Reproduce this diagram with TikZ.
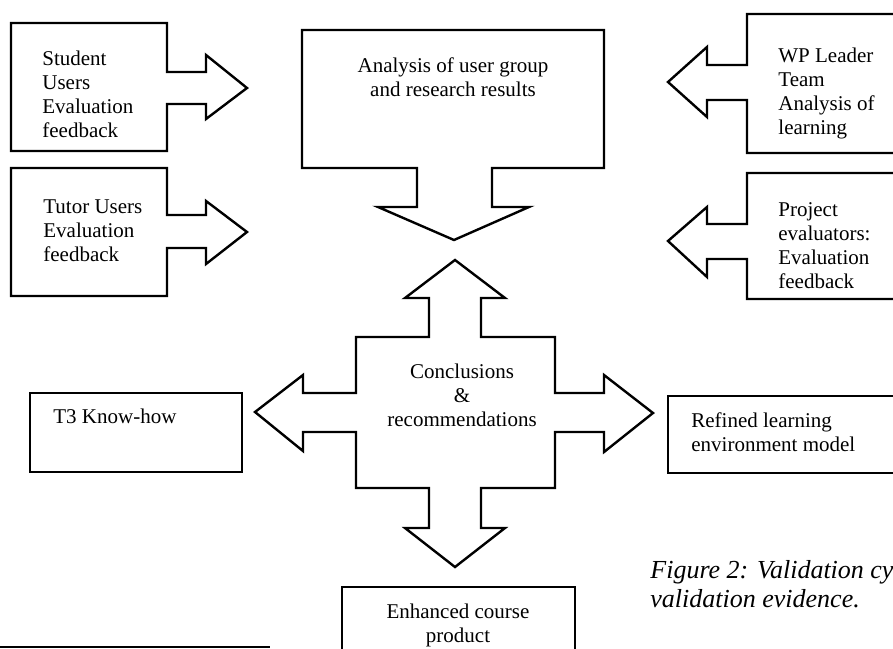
\documentclass[tikz,border=0pt]{standalone}
\usepackage{fontspec}
\setmainfont{Liberation Serif}
\newcommand\tlines[2][l]{\begin{tabular}[t]{@{}#1@{}}#2\end{tabular}}
\tikzset{
  outline/.style={draw=black, line width=1.2pt, line join=miter, fill=none},
  txt/.style={inner sep=0pt, font=\fontsize{10.5}{12}\selectfont},
  captxt/.style={inner sep=0pt, font=\fontsize{13}{14.5}\selectfont\itshape},
}
\begin{document}
\begin{tikzpicture}[x=0.5pt, y=-0.5pt]
\useasboundingbox (0,0) rectangle (893,648);
\clip (0,0) rectangle (893,648);
\fill[white] (0,0) rectangle (893,648);

% Student users box with right arrow
\draw[outline] (11,23) -- (167,23) -- (167,72) -- (206,72) -- (206,55) -- (247,88)
  -- (206,119) -- (206,104) -- (167,104) -- (167,151) -- (11,151) -- cycle;
\node[txt, anchor=base west] (student) at (42,65) {\tlines{Student\\Users\\Evaluation\\feedback}};

% Tutor users box with right arrow
\draw[outline] (11,168) -- (167,168) -- (167,215) -- (206,215) -- (206,201) -- (247,232)
  -- (206,264) -- (206,248) -- (167,248) -- (167,296) -- (11,296) -- cycle;
\node[txt, anchor=base west] (tutor) at (43,213) {\tlines{Tutor Users\\Evaluation\\feedback}};

% Analysis box with down arrow
\draw[outline] (302,30) -- (604,30) -- (604,168) -- (492,168) -- (492,207) -- (529,207)
  -- (454,240) -- (378,207) -- (417,207) -- (417,168) -- (302,168) -- cycle;
\node[txt, anchor=base] (analysis) at (453,72) {\tlines[c]{Analysis of user group\\and research results}};

% WP leader box with left arrow
\draw[outline] (905,14) -- (747,14) -- (747,65) -- (707,65) -- (707,47) -- (668,82)
  -- (707,117) -- (707,100) -- (747,100) -- (747,153) -- (905,153);
\node[txt, anchor=base west] (wp) at (778,62) {\tlines{WP Leader\\Team\\Analysis of\\learning}};

% Project evaluators box with left arrow
\draw[outline] (905,173) -- (747,173) -- (747,224) -- (707,224) -- (707,207) -- (668,241)
  -- (707,277) -- (707,259) -- (747,259) -- (747,299) -- (905,299);
\node[txt, anchor=base west] (project) at (778,216) {\tlines{Project\\evaluators:\\Evaluation\\feedback}};

% Conclusions cross with four arrows
\draw[outline] (429,337) -- (429,298) -- (405,298) -- (455,260) -- (505,298) -- (481,298)
  -- (481,337) -- (555,337) -- (555,393) -- (604,393) -- (604,375) -- (653,413)
  -- (604,452) -- (604,432) -- (555,432) -- (555,488) -- (481,488) -- (481,528)
  -- (505,528) -- (455,567) -- (405,528) -- (429,528) -- (429,488) -- (356,488)
  -- (356,432) -- (303,432) -- (303,451) -- (255,412) -- (303,375) -- (303,393)
  -- (356,393) -- (356,337) -- cycle;
\node[txt, anchor=base] (concl) at (462,378) {\tlines[c]{Conclusions\\\&\\recommendations}};

% T3 Know-how
\draw[outline] (30,393) rectangle (242,472);
\node[txt, anchor=base west] (t3) at (53,423) {T3 Know-how};

% Refined learning environment model
\draw[outline] (905,396) -- (668,396) -- (668,473) -- (905,473);
\node[txt, anchor=base west] (refined) at (691,427) {\tlines{Refined learning\\environment model}};

% Enhanced course product
\draw[outline] (342,660) -- (342,587) -- (575,587) -- (575,660);
\node[txt, anchor=base] (enhanced) at (458,618) {\tlines[c]{Enhanced course\\product}};

% Caption
\node[captxt, anchor=base west] (caption) at (650,578) {\tlines{Figure 2: Validation cy\\validation evidence.}};

% Rule at bottom left
\coordinate (ruleA) at (0,647);
\coordinate (ruleB) at (270,647);
\draw[line width=1.4pt] (ruleA) -- (ruleB);
\end{tikzpicture}
\end{document}
